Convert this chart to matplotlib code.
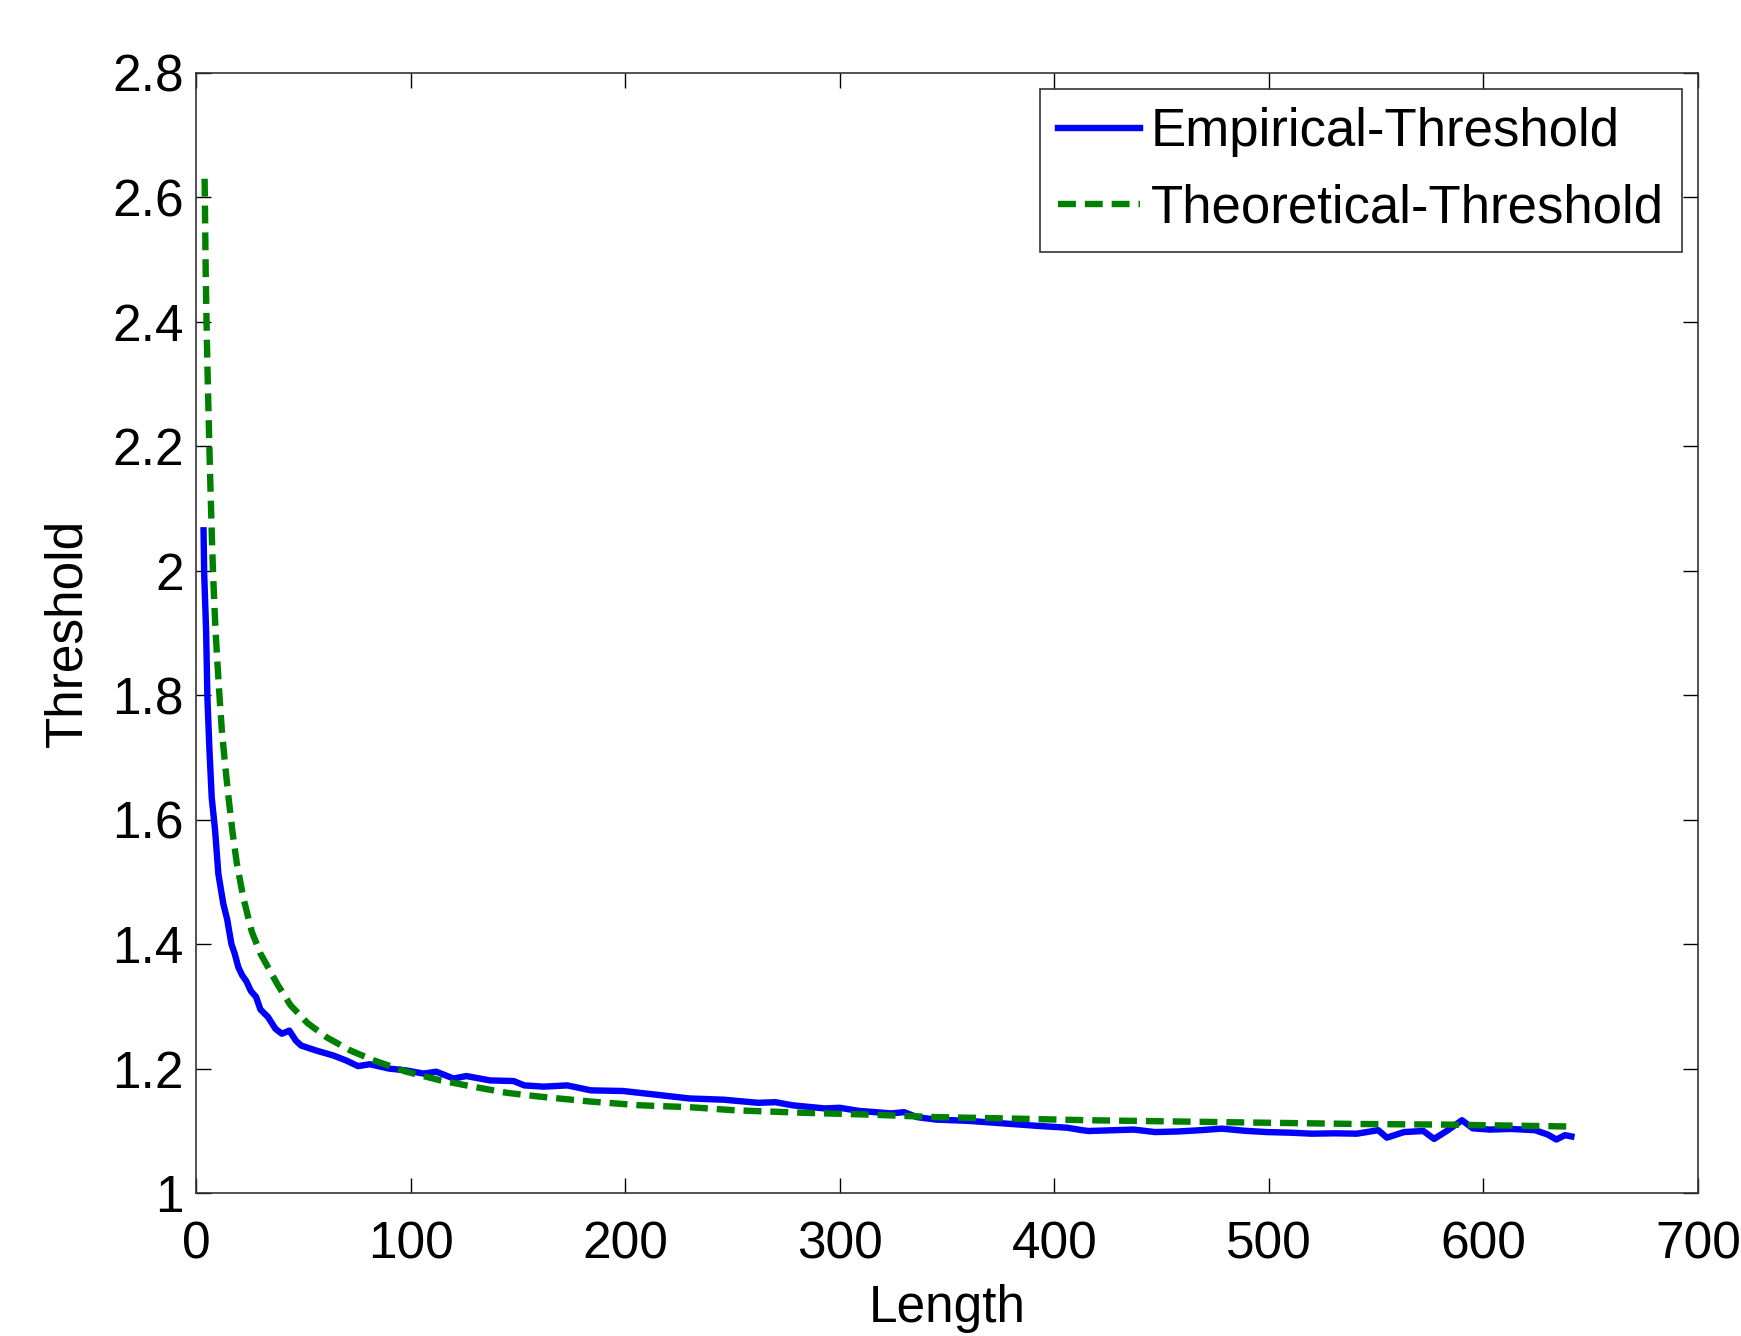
import matplotlib
matplotlib.use("Agg")
import matplotlib.pyplot as plt
from matplotlib.ticker import FuncFormatter

# Empirical threshold
emp_len = [3.5, 3.8, 4.7, 5.3, 6.2, 7.3, 8.9, 10.4, 12.7, 14.5, 16.5, 18, 19.7,
           21.5, 23.5, 25.5, 28, 30, 33.5, 37, 40, 43.5, 46.5, 49, 56, 64, 70,
           75.5, 81, 90, 98, 106, 112, 120, 126, 137, 148, 153, 162, 173, 184,
           199, 212, 230, 246, 262, 270, 278, 293, 300, 309, 324, 330, 336, 345,
           360, 376, 392, 406, 413, 416, 428, 437, 447, 458, 468, 478, 489, 499,
           510, 520, 531, 541, 551, 555, 563, 572, 577, 583, 590, 595, 603, 613,
           624, 630, 634, 638, 641]
emp_thr = [2.065, 1.995, 1.903, 1.796, 1.716, 1.636, 1.582, 1.513, 1.465, 1.44,
           1.40, 1.385, 1.363, 1.35, 1.34, 1.325, 1.315, 1.295, 1.283, 1.264,
           1.256, 1.261, 1.245, 1.237, 1.229, 1.221, 1.213, 1.204, 1.207, 1.2,
           1.197, 1.192, 1.195, 1.184, 1.188, 1.181, 1.18, 1.173, 1.171, 1.173,
           1.165, 1.164, 1.159, 1.152, 1.150, 1.145, 1.146, 1.141, 1.136, 1.137,
           1.132, 1.128, 1.130, 1.122, 1.118, 1.116, 1.112, 1.108, 1.105, 1.101,
           1.0997, 1.101, 1.102, 1.098, 1.099, 1.101, 1.1035, 1.100, 1.098,
           1.097, 1.0954, 1.096, 1.0954, 1.101, 1.089, 1.098, 1.0997, 1.087,
           1.100, 1.117, 1.104, 1.102, 1.103, 1.101, 1.094, 1.086, 1.093, 1.091]

# Theoretical threshold
theo_len = [4, 4.5, 5, 5.5, 6, 6.5, 7, 7.5, 8, 9, 10, 11, 12, 13.5, 15, 17, 19,
            22, 26, 30, 34, 38, 44, 52, 61, 72, 83, 98, 114, 129, 145, 160, 184,
            207, 230, 251, 283, 314, 345, 376, 416, 478, 541, 582, 639]
theo_thr = [2.63, 2.48, 2.38, 2.30, 2.23, 2.16, 2.10, 2.04, 1.99, 1.91, 1.85,
            1.795, 1.745, 1.69, 1.64, 1.58, 1.53, 1.475, 1.42, 1.385, 1.36,
            1.335, 1.302, 1.273, 1.25, 1.229, 1.213, 1.195, 1.181, 1.171, 1.161,
            1.155, 1.147, 1.141, 1.138, 1.133, 1.129, 1.126, 1.122, 1.120,
            1.117, 1.114, 1.111, 1.110, 1.107]

x_ticks = [0, 100, 200, 300, 400, 500, 600, 700]
y_ticks = [1, 1.2, 1.4, 1.6, 1.8, 2, 2.2, 2.4, 2.6, 2.8]

plt.rcParams["font.family"] = ["Liberation Sans", "DejaVu Sans"]

fig = plt.figure(figsize=(17.41, 13.36), dpi=100)
ax = fig.add_axes([0.1126, 0.107, 0.9753 - 0.1126, 0.9454 - 0.107])

ax.plot(emp_len, emp_thr, color="#0000ff", linewidth=4.6, label="Empirical-Threshold")
ax.plot(theo_len, theo_thr, color="#008000", linewidth=4.6,
        linestyle=(0, (2.8, 1.4)), label="Theoretical-Threshold")

ax.set_xlim(0, 700)
ax.set_ylim(1, 2.8)
ax.set_xticks(x_ticks)
ax.set_yticks(y_ticks)
ax.yaxis.set_major_formatter(FuncFormatter(lambda v, p: "%g" % v))

ax.tick_params(direction="in", length=10.5, width=1, labelsize=37,
               top=True, right=True)
ax.tick_params(axis="x", pad=20)
ax.tick_params(axis="y", pad=9)
for s in ax.spines.values():
    s.set_linewidth(1.2)
    s.set_color("#333333")

ax.set_xlabel("Length", fontsize=37, labelpad=10)
ax.set_ylabel("Threshold", fontsize=37, labelpad=14)

leg = ax.legend(loc="upper right", fontsize=38, frameon=True, fancybox=False,
                edgecolor="black", handlelength=1.55, handletextpad=0.2,
                labelspacing=0.5, borderpad=0.35, borderaxespad=0.3)
leg.get_frame().set_linewidth(1.2)

fig.savefig("out.png", dpi=100)
